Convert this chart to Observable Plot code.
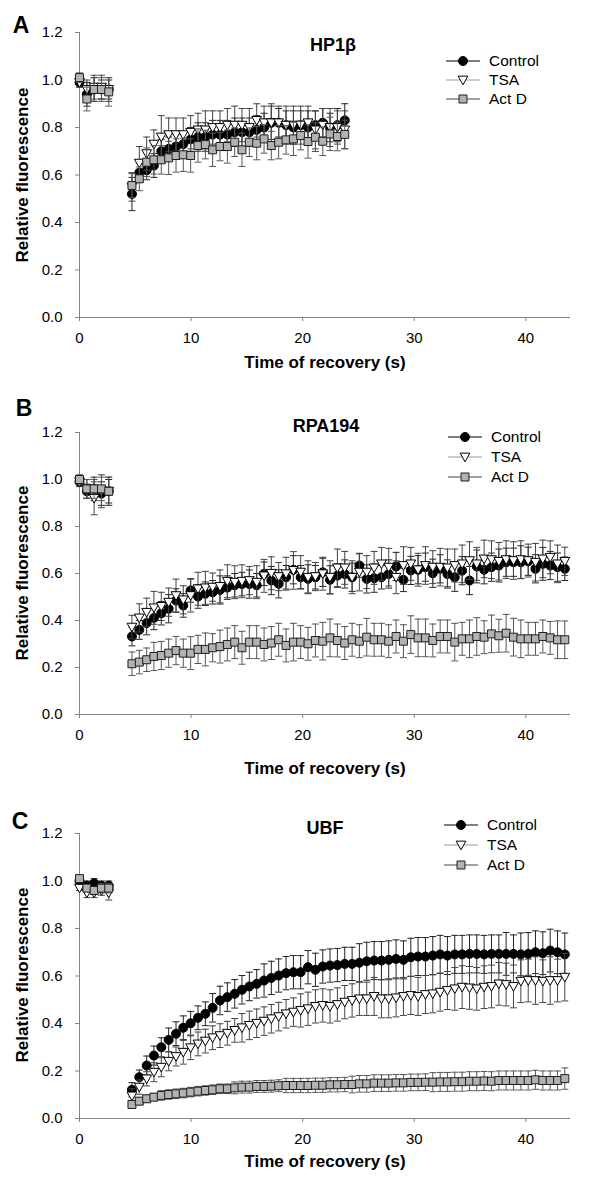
<!DOCTYPE html>
<html><head><meta charset="utf-8">
<script src="https://cdn.jsdelivr.net/npm/d3@7"></script>
<script src="https://cdn.jsdelivr.net/npm/@observablehq/plot@0.6"></script>
<style>
body{margin:0;background:#fff;}
#root{position:relative;width:600px;height:1178px;overflow:hidden;font-family:"Liberation Sans",Arial,sans-serif;color:#000;background:#fff;}
.panel{position:absolute;left:0;width:600px;}
.lbl{position:absolute;transform:translate(-50%,-50%);white-space:nowrap;font-weight:bold;line-height:1;}
.letter{font-size:23px;}
.title{font-size:18px;}
.axt{font-size:17px;}
.yt{transform:translate(-50%,-50%) rotate(-90deg);}
.legend{position:absolute;left:0;top:0;overflow:visible;}
</style></head><body><div id="root"></div>
<script>
// ---------- data ----------
const SERIES = ["Control", "TSA", "Act D"];
const PANEL_LETTERS = ["A", "B", "C"];
const PANEL_TITLES = ["HP1\u03b2", "RPA194", "UBF"];
const X_TICKS = [0, 10, 20, 30, 40];
const Y_TICKS = [0, 0.2, 0.4, 0.6, 0.8, 1.0, 1.2];
const X_LABEL = "Time of recovery (s)";
const Y_LABEL = "Relative fluorescence";

const TIME_PRE = [0, 0.66, 1.31, 1.97, 2.62];
const TIME_POST = [
  4.70, 5.36, 6.02, 6.67, 7.33, 7.99, 8.65, 9.30, 9.96, 10.62,
  11.28, 11.93, 12.59, 13.25, 13.91, 14.56, 15.22, 15.88, 16.54, 17.19,
  17.85, 18.51, 19.17, 19.82, 20.48, 21.14, 21.80, 22.45, 23.11, 23.77,
  24.43, 25.08, 25.74, 26.40, 27.06, 27.71, 28.37, 29.03, 29.69, 30.34,
  31.00, 31.66, 32.32, 32.97, 33.63, 34.29, 34.95, 35.60, 36.26, 36.92,
  37.58, 38.23, 38.89, 39.55, 40.21, 40.86, 41.52, 42.18, 42.84, 43.49
];

// Panel A (HP1beta)
const A_CONTROL_PRE = [0.99, 0.94, 0.96, 0.96, 0.96];
const A_TSA_PRE = [0.99, 0.96, 0.97, 0.97, 0.96];
const A_ACTD_PRE = [1.01, 0.92, 0.96, 0.96, 0.95];
const A_CONTROL_PRE_SD = [0.02, 0.05, 0.05, 0.04, 0.04];
const A_TSA_PRE_SD = [0.02, 0.04, 0.05, 0.05, 0.05];
const A_ACTD_PRE_SD = [0.02, 0.05, 0.05, 0.05, 0.06];
const A_CONTROL = [0.52,0.61,0.62,0.64,0.70,0.71,0.72,0.73,0.75,0.76, 0.76,0.77,0.77,0.77,0.78,0.78,0.78,0.79,0.80,0.82, 0.82,0.81,0.80,0.81,0.80,0.81,0.82,0.80,0.81,0.83];
const A_TSA = [0.55,0.65,0.69,0.73,0.76,0.77,0.77,0.77,0.78,0.79, 0.79,0.80,0.80,0.81,0.81,0.81,0.80,0.83,0.82,0.82, 0.82,0.81,0.81,0.81,0.82,0.79,0.81,0.80,0.80,0.79];
const A_ACTD = [0.556,0.584,0.654,0.664,0.664,0.672,0.682,0.685,0.682,0.724, 0.728,0.706,0.72,0.72,0.738,0.706,0.738,0.734,0.752,0.724, 0.738,0.748,0.752,0.766,0.741,0.759,0.742,0.773,0.762,0.771];
const A_CONTROL_SD = [0.07,0.04,0.04,0.05,0.05,0.05,0.05,0.05,0.05,0.06, 0.06,0.06,0.06,0.06,0.06,0.06,0.06,0.06,0.06,0.07, 0.06,0.06,0.07,0.06,0.07,0.06,0.06,0.06,0.07,0.07];
const A_TSA_SD = [0.06,0.07,0.07,0.06,0.09,0.07,0.07,0.07,0.07,0.07, 0.08,0.07,0.07,0.07,0.08,0.07,0.08,0.07,0.07,0.08, 0.07,0.08,0.08,0.08,0.07,0.08,0.07,0.08,0.07,0.08];
const A_ACTD_SD = [0.05,0.05,0.06,0.06,0.06,0.07,0.07,0.07,0.07,0.07, 0.06,0.07,0.06,0.07,0.06,0.07,0.06,0.07,0.06,0.06, 0.07,0.06,0.07,0.06,0.07,0.06,0.06,0.07,0.06,0.06];

// Panel B (RPA194)
const B_CONTROL_PRE = [0.99, 0.95, 0.96, 0.94, 0.95];
const B_TSA_PRE = [0.99, 0.96, 0.92, 0.95, 0.95];
const B_ACTD_PRE = [1.00, 0.96, 0.96, 0.96, 0.95];
const B_CONTROL_PRE_SD = [0.02, 0.03, 0.05, 0.05, 0.05];
const B_TSA_PRE_SD = [0.02, 0.04, 0.07, 0.07, 0.06];
const B_ACTD_PRE_SD = [0.02, 0.04, 0.04, 0.05, 0.06];
const B_CONTROL = [
  0.332,0.360,0.389,0.411,0.431,0.450,0.485,0.464,0.528,0.502,
  0.514,0.520,0.530,0.540,0.550,0.555,0.555,0.550,0.599,0.570,
  0.556,0.584,0.616,0.584,0.577,0.584,0.605,0.573,0.591,0.598,
  0.584,0.634,0.577,0.580,0.584,0.598,0.630,0.573,0.613,0.616,
  0.627,0.601,0.620,0.598,0.584,0.612,0.570,0.630,0.616,0.627,
  0.634,0.648,0.648,0.648,0.652,0.620,0.641,0.634,0.627,0.620];
const B_TSA = [
  0.372,0.411,0.435,0.454,0.460,0.478,0.506,0.488,0.506,0.535,
  0.539,0.542,0.545,0.567,0.563,0.567,0.570,0.563,0.590,0.601,
  0.587,0.599,0.613,0.606,0.584,0.587,0.599,0.584,0.624,0.624,
  0.584,0.606,0.606,0.624,0.641,0.627,0.584,0.634,0.641,0.616,
  0.634,0.627,0.627,0.624,0.634,0.641,0.655,0.641,0.662,0.659,
  0.652,0.659,0.655,0.659,0.655,0.648,0.662,0.669,0.641,0.652];
const B_ACTD = [
  0.216,0.223,0.233,0.247,0.251,0.261,0.272,0.261,0.261,0.277,
  0.277,0.284,0.289,0.298,0.308,0.284,0.308,0.308,0.298,0.304,
  0.318,0.294,0.308,0.308,0.301,0.315,0.312,0.326,0.315,0.304,
  0.318,0.312,0.329,0.318,0.318,0.312,0.332,0.312,0.340,0.326,
  0.326,0.315,0.332,0.332,0.308,0.322,0.322,0.332,0.329,0.343,
  0.335,0.346,0.329,0.322,0.322,0.322,0.332,0.326,0.318,0.318];
const B_CONTROL_SD = [
  0.04,0.04,0.05,0.05,0.05,0.06,0.05,0.05,0.05,0.05,
  0.05,0.05,0.06,0.05,0.05,0.05,0.06,0.05,0.05,0.06,
  0.06,0.05,0.06,0.05,0.06,0.05,0.06,0.06,0.05,0.06,
  0.06,0.05,0.06,0.06,0.05,0.06,0.06,0.05,0.06,0.06,
  0.06,0.06,0.06,0.06,0.06,0.06,0.06,0.07,0.06,0.06,
  0.07,0.06,0.06,0.07,0.06,0.06,0.07,0.06,0.06,0.05];
const B_TSA_SD = [
  0.05,0.06,0.06,0.07,0.06,0.06,0.07,0.06,0.07,0.07,
  0.07,0.06,0.07,0.07,0.07,0.07,0.06,0.07,0.07,0.07,
  0.06,0.07,0.08,0.07,0.07,0.06,0.07,0.07,0.08,0.07,
  0.07,0.08,0.07,0.07,0.07,0.08,0.07,0.08,0.07,0.07,
  0.08,0.07,0.08,0.08,0.07,0.08,0.08,0.07,0.08,0.08,
  0.08,0.08,0.08,0.08,0.07,0.08,0.08,0.07,0.08,0.06];
const B_ACTD_SD = [
  0.05,0.05,0.05,0.06,0.06,0.06,0.06,0.06,0.07,0.06,
  0.07,0.06,0.07,0.07,0.07,0.07,0.07,0.07,0.07,0.07,
  0.07,0.07,0.08,0.07,0.07,0.07,0.08,0.08,0.07,0.07,
  0.07,0.07,0.08,0.07,0.07,0.07,0.07,0.07,0.08,0.08,
  0.08,0.07,0.07,0.07,0.08,0.07,0.08,0.08,0.07,0.08,
  0.07,0.08,0.08,0.08,0.07,0.07,0.07,0.07,0.08,0.08];

// Panel C (UBF)
const C_CONTROL_PRE = [1.00, 0.98, 0.99, 0.98, 0.98];
const C_TSA_PRE = [0.97, 0.95, 0.95, 0.96, 0.95];
const C_ACTD_PRE = [1.01, 0.97, 0.96, 0.97, 0.97];
const C_CONTROL_PRE_SD = [0.01, 0.02, 0.02, 0.02, 0.02];
const C_TSA_PRE_SD = [0.01, 0.02, 0.02, 0.02, 0.03];
const C_ACTD_PRE_SD = [0.01, 0.01, 0.01, 0.02, 0.02];
const C_CONTROL = [
  0.121,0.174,0.223,0.265,0.300,0.331,0.357,0.382,0.401,0.424,
  0.441,0.466,0.497,0.511,0.525,0.542,0.556,0.567,0.581,0.592,
  0.602,0.612,0.616,0.616,0.637,0.626,0.640,0.644,0.646,0.651,
  0.651,0.656,0.662,0.665,0.665,0.668,0.672,0.668,0.679,0.682,
  0.682,0.686,0.691,0.686,0.691,0.691,0.693,0.693,0.691,0.693,
  0.693,0.693,0.693,0.691,0.693,0.700,0.696,0.707,0.700,0.691];
const C_TSA = [
  0.095,0.132,0.167,0.195,0.216,0.241,0.261,0.279,0.298,0.314,
  0.326,0.340,0.349,0.359,0.371,0.382,0.392,0.401,0.410,0.420,
  0.429,0.441,0.448,0.455,0.462,0.472,0.476,0.472,0.480,0.490,
  0.497,0.504,0.504,0.514,0.504,0.504,0.508,0.514,0.518,0.514,
  0.522,0.525,0.532,0.539,0.546,0.553,0.550,0.546,0.553,0.556,
  0.567,0.564,0.556,0.578,0.581,0.581,0.578,0.581,0.581,0.595];
const C_ACTD = [
  0.059,0.073,0.083,0.090,0.097,0.101,0.104,0.107,0.111,0.115,
  0.118,0.121,0.125,0.125,0.129,0.132,0.132,0.135,0.135,0.136,
  0.138,0.139,0.139,0.139,0.139,0.140,0.140,0.142,0.142,0.143,
  0.143,0.146,0.146,0.149,0.149,0.149,0.150,0.150,0.152,0.152,
  0.153,0.153,0.154,0.154,0.155,0.155,0.157,0.157,0.158,0.157,
  0.160,0.160,0.160,0.160,0.160,0.163,0.160,0.160,0.160,0.168];
const C_CONTROL_SD = [
  0.03,0.03,0.04,0.04,0.04,0.05,0.05,0.05,0.05,0.05,
  0.05,0.06,0.06,0.06,0.06,0.06,0.06,0.06,0.07,0.07,
  0.07,0.07,0.07,0.07,0.07,0.07,0.07,0.07,0.07,0.07,
  0.07,0.08,0.08,0.08,0.08,0.08,0.08,0.08,0.08,0.08,
  0.08,0.08,0.08,0.08,0.08,0.08,0.08,0.08,0.08,0.08,
  0.08,0.09,0.08,0.09,0.09,0.09,0.09,0.09,0.09,0.09];
const C_TSA_SD = [
  0.03,0.03,0.03,0.04,0.04,0.04,0.04,0.05,0.05,0.05,
  0.05,0.05,0.05,0.05,0.05,0.06,0.06,0.06,0.06,0.06,
  0.06,0.06,0.06,0.07,0.07,0.07,0.07,0.07,0.07,0.07,
  0.07,0.07,0.07,0.08,0.08,0.08,0.08,0.08,0.08,0.08,
  0.08,0.08,0.08,0.08,0.09,0.09,0.09,0.09,0.09,0.09,
  0.09,0.09,0.09,0.09,0.09,0.10,0.09,0.10,0.09,0.10];
const C_ACTD_SD = [
  0.015,0.015,0.015,0.015,0.02,0.02,0.02,0.02,0.02,0.02,
  0.02,0.02,0.02,0.02,0.025,0.025,0.025,0.025,0.025,0.025,
  0.025,0.03,0.03,0.03,0.03,0.03,0.03,0.03,0.03,0.03,
  0.035,0.035,0.035,0.035,0.035,0.035,0.035,0.035,0.035,0.035,
  0.035,0.04,0.04,0.04,0.04,0.04,0.04,0.04,0.04,0.04,
  0.04,0.04,0.04,0.04,0.04,0.04,0.04,0.04,0.04,0.045];

// ---------- build tables ----------
function rows(series, pre, post, sdPre, sdPost) {
  const t = TIME_PRE.concat(TIME_POST.slice(0, post.length));
  const v = pre.concat(post), e = sdPre.concat(sdPost);
  return t.map((ti, i) => ({series, t: ti, v: v[i], e: e[i]}));
}
const PANEL_DATA = [
  [rows("Control", A_CONTROL_PRE, A_CONTROL, A_CONTROL_PRE_SD, A_CONTROL_SD),
   rows("TSA", A_TSA_PRE, A_TSA, A_TSA_PRE_SD, A_TSA_SD),
   rows("Act D", A_ACTD_PRE, A_ACTD, A_ACTD_PRE_SD, A_ACTD_SD)],
  [rows("Control", B_CONTROL_PRE, B_CONTROL, B_CONTROL_PRE_SD, B_CONTROL_SD),
   rows("TSA", B_TSA_PRE, B_TSA, B_TSA_PRE_SD, B_TSA_SD),
   rows("Act D", B_ACTD_PRE, B_ACTD, B_ACTD_PRE_SD, B_ACTD_SD)],
  [rows("Control", C_CONTROL_PRE, C_CONTROL, C_CONTROL_PRE_SD, C_CONTROL_SD),
   rows("TSA", C_TSA_PRE, C_TSA, C_TSA_PRE_SD, C_TSA_SD),
   rows("Act D", C_ACTD_PRE, C_ACTD, C_ACTD_PRE_SD, C_ACTD_SD)]
];

// ---------- styles ----------
const triDown = {
  draw(ctx, size) {
    const s = Math.sqrt(size);
    const w = s * 0.53, top = -s * 0.42, bot = s * 0.52;
    ctx.moveTo(-w, top); ctx.lineTo(w, top); ctx.lineTo(0, bot); ctx.closePath();
  }
};
const capSym = {
  draw(ctx, size) {
    const w = Math.sqrt(size) / 2;
    ctx.moveTo(-w, 0); ctx.lineTo(w, 0);
  }
};
const STYLE = {
  "Control": {symbol: "circle", d3sym: d3.symbolCircle, fill: "#000", stroke: "#000", r: 4.5, bar: "#222", line: "#000"},
  "TSA": {symbol: triDown, d3sym: triDown, fill: "#fff", stroke: "#000", r: 5.2, bar: "#444", line: "#9a9a9a"},
  "Act D": {symbol: "square", d3sym: d3.symbolSquare, fill: "#b2b2b2", stroke: "#1e1e1e", r: 4.5, bar: "#555", line: "#474747"}
};

// ---------- layout ----------
const LAYOUT = [
  {top: 0, height: 395, mt: 32, mb: 78, letter: [21, 25], title: [333, 45], yt: [22, 175], xt: [325, 362],
   leg: {rows: [61, 80, 99], x1: 446, x2: 480, xm: 463, xt: 489}},
  {top: 395, height: 398, mt: 37, mb: 79, letter: [24, 408], title: [326, 426], yt: [22, 573], xt: [325, 768],
   leg: {rows: [437, 457, 477], x1: 448, x2: 482, xm: 465, xt: 491}},
  {top: 793, height: 385, mt: 40, mb: 60, letter: [20, 821], title: [325, 828], yt: [22, 975], xt: [325, 1161],
   leg: {rows: [825, 845, 865], x1: 444, x2: 478, xm: 461, xt: 487}}
];

const root = document.getElementById("root");

function addLabel(text, cls, [x, y]) {
  const d = document.createElement("div");
  d.className = "lbl " + cls;
  d.textContent = text;
  d.style.left = x + "px";
  d.style.top = y + "px";
  root.appendChild(d);
}

PANEL_DATA.forEach((data, p) => {
  const L = LAYOUT[p];
  const marks = [
    Plot.ruleX([0], {stroke: "#858585", strokeWidth: 1}),
    Plot.ruleY([0], {stroke: "#858585", strokeWidth: 1}),
    Plot.axisX({ticks: X_TICKS, tickSize: 4, tickPadding: 11, stroke: "#858585", fill: "#000", label: null, fontSize: 15}),
    Plot.axisY({ticks: Y_TICKS, tickSize: 4, tickPadding: 13, stroke: "#858585", fill: "#000", label: null, fontSize: 15, tickFormat: d3.format(".1f")})
  ];
  data.forEach(d => {
    const st = STYLE[d[0].series];
    marks.push(
      Plot.ruleX(d, {x: "t", y1: r => r.v - r.e, y2: r => r.v + r.e, stroke: st.bar, strokeWidth: 1}),
      Plot.dot(d, {x: "t", y: r => r.v + r.e, symbol: capSym, r: 3.9, stroke: st.bar, fill: "none", strokeWidth: 1}),
      Plot.dot(d, {x: "t", y: r => r.v - r.e, symbol: capSym, r: 3.9, stroke: st.bar, fill: "none", strokeWidth: 1}),
      Plot.dot(d, {x: "t", y: "v", symbol: st.symbol, r: st.r, fill: st.fill, stroke: st.stroke, strokeWidth: 1})
    );
  });
  const chart = Plot.plot({
    width: 600, height: L.height,
    marginLeft: 79, marginRight: 30, marginTop: L.mt, marginBottom: L.mb,
    style: {fontFamily: "'Liberation Sans', Arial, sans-serif", fontSize: "15px", color: "#000", background: "transparent", overflow: "visible"},
    x: {domain: [0, 44]},
    y: {domain: [0, 1.2]},
    marks
  });
  const wrap = document.createElement("div");
  wrap.className = "panel";
  wrap.style.top = L.top + "px";
  wrap.style.height = L.height + "px";
  wrap.appendChild(chart);
  root.appendChild(wrap);

  addLabel(PANEL_LETTERS[p], "letter", L.letter);
  addLabel(PANEL_TITLES[p], "title", L.title);
  addLabel(Y_LABEL, "axt yt", L.yt);
  addLabel(X_LABEL, "axt", L.xt);

  // legend
  const svg = d3.select(root).append("svg")
    .attr("class", "legend").attr("width", 600).attr("height", 1178)
    .style("pointer-events", "none");
  SERIES.forEach((s, i) => {
    const st = STYLE[s], y = L.leg.rows[i];
    svg.append("line").attr("x1", L.leg.x1).attr("x2", L.leg.x2).attr("y1", y).attr("y2", y)
      .attr("stroke", st.line).attr("stroke-width", 1.2);
    svg.append("path").attr("transform", `translate(${L.leg.xm},${y})`)
      .attr("d", d3.symbol(st.d3sym, Math.PI * st.r * st.r)())
      .attr("fill", st.fill).attr("stroke", st.stroke).attr("stroke-width", 1);
    svg.append("text").attr("x", L.leg.xt).attr("y", y).attr("dy", "0.35em")
      .attr("font-family", "'Liberation Sans', Arial, sans-serif").attr("font-size", 15.5)
      .attr("fill", "#000").text(s);
  });
});
</script></body></html>
